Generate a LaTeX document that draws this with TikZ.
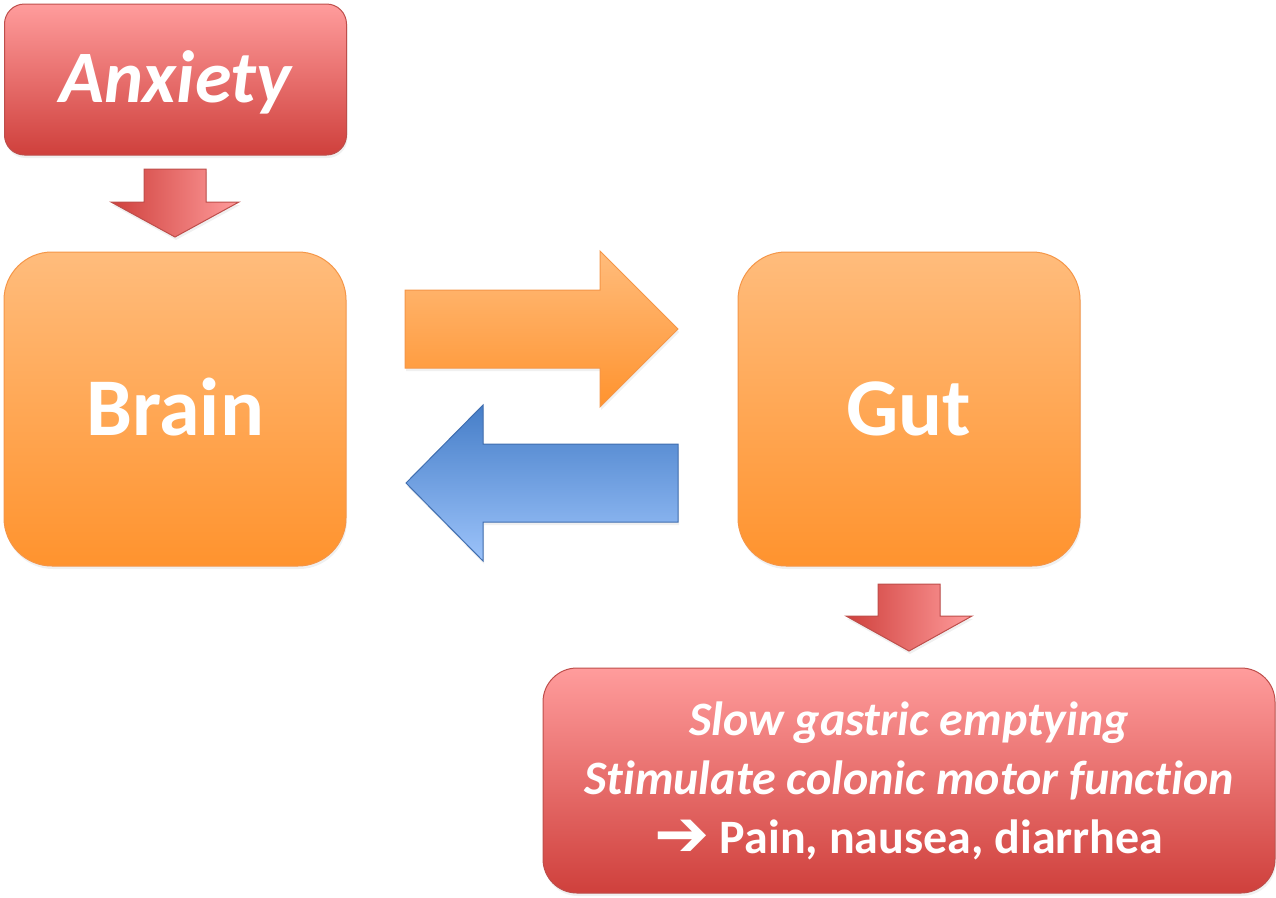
\documentclass[tikz,border=0pt]{standalone}
\usepackage{fontspec}
\setmainfont{Carlito}[Ligatures=NoCommon]
\newfontfamily\symfont{DejaVu Sans}
\usetikzlibrary{shadows}
\definecolor{redtop}{RGB}{255,156,156}
\definecolor{redbot}{RGB}{207,64,60}
\definecolor{redline}{RGB}{190,78,75}
\definecolor{orgtop}{RGB}{255,188,124}
\definecolor{orgbot}{RGB}{255,147,46}
\definecolor{orgline}{RGB}{245,150,72}
\definecolor{bluetop}{RGB}{70,126,200}
\definecolor{bluebot}{RGB}{156,195,250}
\definecolor{blueline}{RGB}{64,110,175}
\begin{document}
\begin{tikzpicture}[x=1pt,y=-1pt,
  softshadow/.style={drop shadow={opacity=0.12,shadow xshift=1pt,shadow yshift=-3pt}},
  redbox/.style={draw=redline,line width=1pt,top color=redtop,bottom color=redbot,text=white,inner sep=0pt,softshadow},
  orgbox/.style={draw=orgline,line width=1pt,top color=orgtop,bottom color=orgbot,text=white,rounded corners=48pt,minimum width=342pt,minimum height=314pt,inner sep=0pt,softshadow,font=\fontsize{82}{90}\selectfont\bfseries,text height=53pt,text depth=0pt},
  redarrow/.style={draw=redline,line width=1pt,left color=redbot,right color=redtop,softshadow},
  orgarrow/.style={draw=orgline,line width=1pt,top color=orgtop,bottom color=orgbot,softshadow},
  bluearrow/.style={draw=blueline,line width=1pt,top color=bluetop,bottom color=bluebot,softshadow}
]
\useasboundingbox (0,0) rectangle (1276,897);

% boxes
\node[redbox,rounded corners=20pt,minimum width=342pt,minimum height=151pt,
      font=\fontsize{74}{80}\selectfont\bfseries\itshape,text height=46pt,text depth=0pt]
      (anx) at (175.5,79.5) {Anxiety};
\node[orgbox] (brain) at (175,409) {Brain};
\node[orgbox] (gut) at (909,409) {Gut};
\node[redbox,rounded corners=34pt,minimum width=732pt,minimum height=225pt,
      align=center,font=\fontsize{48}{59}\selectfont\bfseries]
      (eff) at (909,780.5) {\itshape Slow gastric emptying\\
      \itshape Stimulate colonic motor function\\
      \raisebox{-3pt}{\symfont\bfseries\fontsize{66}{59}\selectfont ➔}\hspace{10pt}Pain, nausea, diarrhea};

% block arrows
\path[redarrow] (144,169) -- (206,169) -- (206,202) -- (239,202) -- (175,237)
   -- (111,202) -- (144,202) -- cycle;
\path[orgarrow] (405,290) -- (600,290) -- (600,251) -- (678,329) -- (600,407)
   -- (600,368) -- (405,368) -- cycle;
\path[bluearrow] (678,444) -- (483,444) -- (483,405) -- (406,483) -- (483,561)
   -- (483,522) -- (678,522) -- cycle;
\path[redarrow] (878,584) -- (940,584) -- (940,616) -- (972,616) -- (909,651)
   -- (846,616) -- (878,616) -- cycle;
\end{tikzpicture}
\end{document}
